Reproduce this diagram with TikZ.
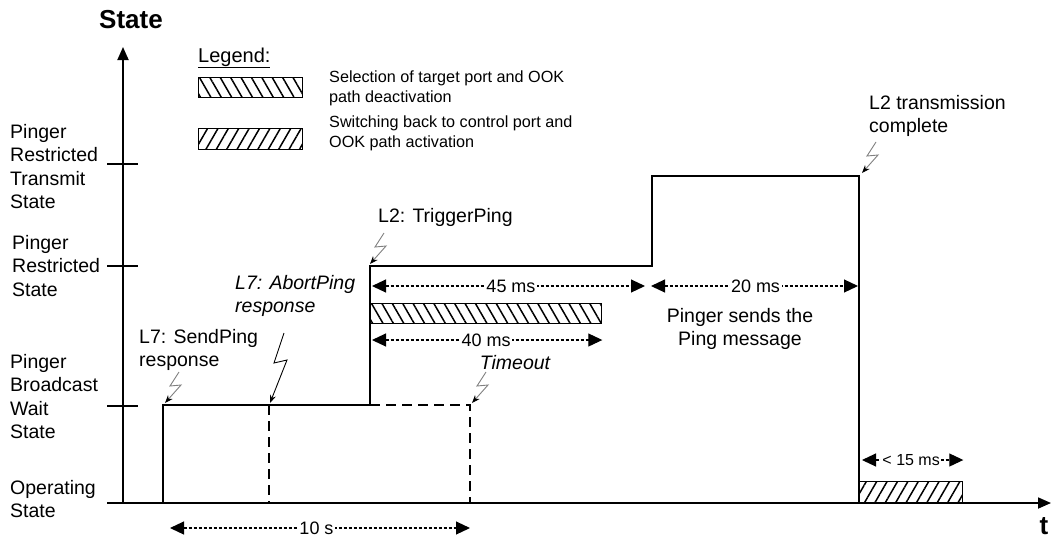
\documentclass[tikz,border=0pt]{standalone}
\usepackage{fontspec}
\setmainfont{Liberation Sans}
\usetikzlibrary{arrows.meta,patterns.meta,positioning}

\tikzset{
    pics/zap/.style={code={\draw[bolt] (14,-31) -- (5,-17) -- (16,-18) -- (0,0);}},
    dimtip/.tip={Triangle[length=14pt,width=13pt]}
}

\begin{document}
\begin{tikzpicture}[x=1pt, y=-1pt,
    lbl/.style={font=\fontsize{19.5}{23.5}\selectfont, inner sep=0pt, align=left},
    ital/.style={lbl, font=\fontsize{19.5}{23.5}\selectfont\itshape},
    lgd/.style={font=\fontsize{16.2}{20}\selectfont, inner sep=0pt, align=left},
    big/.style={font=\fontsize{26}{30}\selectfont\bfseries, inner sep=0pt},
    dimlbl/.style={font=\fontsize{18}{20}\selectfont, fill=white, inner sep=1.5pt},
    axis/.style={line width=1.8pt, -{Triangle[length=13pt,width=11pt]}},
    sig/.style={line width=1.8pt},
    ghost/.style={line width=1.8pt, dash pattern=on 10pt off 6pt},
    dim/.style={line width=1.1pt, dash pattern=on 3pt off 2pt, dimtip-dimtip},
    bolt/.style={line width=0.9pt, draw=gray, -{Stealth[length=8pt,width=6pt,black]}},
    selbar/.style={draw, line width=1.3pt, inner sep=0pt, pattern={Lines[angle=-60,distance=9pt,line width=1.5pt]}},
    swbar/.style={draw, line width=1.3pt, inner sep=0pt, pattern={Lines[angle=60,distance=9pt,line width=1.5pt]}}
]
    \useasboundingbox (0,0) rectangle (1052,542);

    % Axes
    \coordinate (origin) at (123,503);
    \coordinate (ytop) at (123,47);
    \coordinate (xstart) at (107,503);
    \coordinate (xend) at (1051,503);
    \draw[axis] (origin) -- (ytop);
    \draw[axis] (xstart) -- (xend);
    \node[big] (ylab) at (131,20) {State};
    \node[big] (xlab) at (1044,526) {t};

    % State ticks and names
    \draw[sig] (107,164) -- (138,164);
    \draw[sig] (107,266) -- (138,266);
    \draw[sig] (107,406) -- (138,406);
    \node[lbl, anchor=north west] (sTx) at (10,124) {Pinger\\Restricted\\Transmit\\State};
    \node[lbl, anchor=north west] (sRx) at (12,235) {Pinger\\Restricted\\State};
    \node[lbl, anchor=north west] (sBw) at (10,354) {Pinger\\Broadcast\\Wait\\State};
    \node[lbl, anchor=north west] (sOp) at (10,480) {Operating\\State};

    % Legend
    \node[lgd, font=\fontsize{20}{22}\selectfont, anchor=base west] (legend) at (198,62) {\underline{Legend:}};
    \node[selbar, minimum width=104pt, minimum height=20pt, anchor=north west] (lgdSel) at (198,77) {};
    \node[lgd, anchor=north west] (lgdSelTxt) at (329,71) {Selection of target port and OOK\\path deactivation};
    \node[swbar, minimum width=104pt, minimum height=21pt, anchor=north west] (lgdSw) at (198,128) {};
    \node[lgd, anchor=north west] (lgdSwTxt) at (329,116) {Switching back to control port and\\OOK path activation};

    % Events
    \coordinate (tSend) at (163,405);
    \coordinate (tAbort) at (269,405);
    \coordinate (tTrig) at (370,266);
    \coordinate (tOut) at (470,405);
    \coordinate (tTx) at (652,176);
    \coordinate (tDone) at (859,176);

    % State trace
    \draw[sig] (tSend |- origin) -- (tSend) -- (tSend -| tTrig) -- (tTrig) -- (tTx |- tTrig) -- (tTx) -- (tDone) -- (tDone |- origin);
    \draw[ghost] (tAbort) -- (tAbort |- origin);
    \draw[ghost] (tSend -| tTrig) -- (tOut) -- (tOut |- origin);

    % Port switching
    \node[selbar, minimum width=231pt, minimum height=20pt, anchor=north west] (selBar) at (370,303) {};
    \node[swbar, minimum width=103pt, minimum height=21pt, anchor=south west] (swBar) at (tDone |- origin) {};

    % Durations
    \coordinate (row45) at (0,286);
    \coordinate (row40) at (0,340);
    \coordinate (row15) at (0,460);
    \coordinate (row10) at (0,528);
    \draw[dim, shorten <=2pt, shorten >=7pt] (tTrig |- row45) -- (tTx |- row45) node[dimlbl, midway] (d45) {45 ms};
    \draw[dim, shorten <=-1pt, shorten >=1pt] (tTx |- row45) -- (tDone |- row45) node[dimlbl, midway] (d20) {20 ms};
    \draw[dim, shorten <=2pt] (tTrig |- row40) -- (selBar.east |- row40) node[dimlbl, midway] (d40) {40 ms};
    \draw[dim, shorten <=3pt] (tDone |- row15) -- (swBar.east |- row15) node[dimlbl, midway, font=\fontsize{16}{18}\selectfont] (d15) {< 15 ms};
    \draw[dim, shorten <=7pt] (tSend |- row10) -- (tOut |- row10) node[dimlbl, midway] (d10) {10 s};

    % Triggers
    \node[lbl, anchor=north west] (sendTxt) at (139,329) {L7: SendPing\\response};
    \node[ital, anchor=north west] (abortTxt) at (235,275) {L7: AbortPing\\response};
    \node[lbl, anchor=north west] (trigTxt) at (378,208) {L2: TriggerPing};
    \node[ital] (toutTxt) at (515,363) {Timeout};
    \node[lbl, align=center, anchor=north] (pingTxt) at (740,308) {Pinger sends the\\Ping message};
    \node[lbl, anchor=north west] (doneTxt) at (869,95) {L2 transmission\\complete};

    \pic at ([shift={(2,-2)}]tSend) {zap};
    \pic at ([shift={(0,-2)}]tTrig) {zap};
    \pic at ([shift={(2,-2)}]tOut) {zap};
    \pic at ([shift={(3,-3)}]tDone) {zap};
    \draw[bolt, draw=black] ([shift={(15,-72)}]tAbort) -- ([shift={(5,-42)}]tAbort) -- ([shift={(18,-45)}]tAbort) -- ([shift={(1,-2)}]tAbort);

\end{tikzpicture}
\end{document}
